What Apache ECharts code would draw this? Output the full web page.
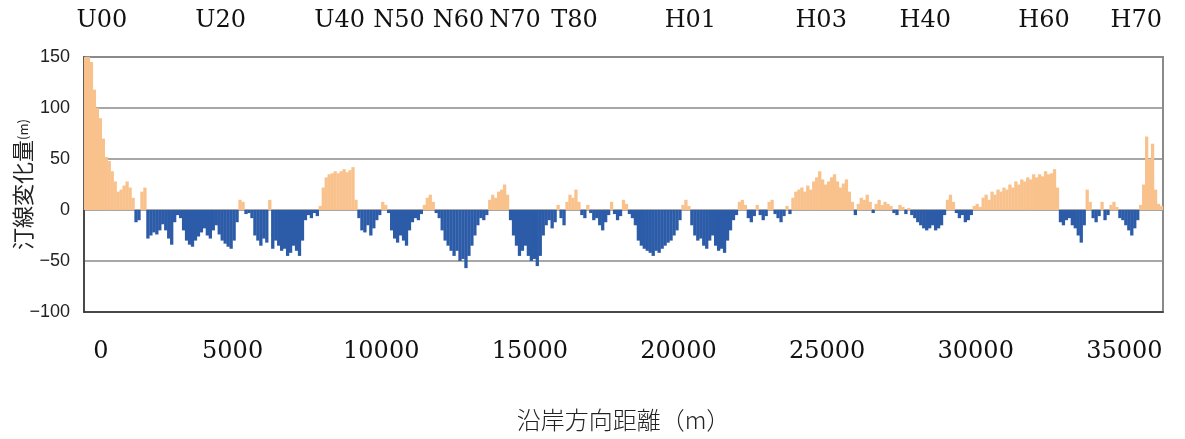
<!DOCTYPE html>
<html>
<head>
<meta charset="utf-8">
<script src="https://cdn.jsdelivr.net/npm/echarts@6/dist/echarts.min.js"></script>
<style>
  html, body { margin: 0; padding: 0; background: #fff; }
  #chart { width: 1185px; height: 439px; }
</style>
</head>
<body>
<div id="chart"></div>
<script>
// Alongshore spacing of the survey profiles (m)
const STEP = 100;

// Shoreline change (m) per 100 m profile, from 0 m alongshore
const shoreChange = [
  150, 150, 145, 118, 100, 90, 70, 52, 48, 38,
  28, 18, 20, 24, 28, 22, 12, -12, -10, 18,
  22, -28, -25, -22, -24, -20, -14, -20, -28, -34,
  -12, -5, -8, -20, -30, -34, -36, -30, -26, -22,
  -18, -25, -28, -20, -15, -24, -30, -33, -36, -38,
  -30, -12, 10, 8, -4, -3, -8, -25, -30, -35,
  -28, -32, 10, -38, -30, -35, -40, -38, -45, -42,
  -35, -40, -45, -30, -10, -5, -8, -3, -6, 4,
  22, 32, 35, 36, 38, 36, 38, 40, 37, 39,
  42, 10, -8, -20, -22, -15, -25, -18, -10, -5,
  8, 5, -3, -20, -28, -32, -25, -30, -35, -20,
  -12, -8, -10, -4, 5, 12, 15, 8, -3, -8,
  -20, -30, -35, -40, -45, -40, -50, -48, -57, -45,
  -35, -25, -15, -8, -10, -5, 10, 15, 12, 18,
  20, 25, 15, -10, -25, -35, -45, -40, -35, -45,
  -50, -48, -55, -45, -25, -15, -10, -18, -12, 5,
  -8, -15, 8, 15, 12, 20, 8, -5, -8, 5,
  -3, -10, -8, -15, -20, -12, -5, 8, -4, -10,
  -6, 10, 6, -4, -8, -15, -30, -35, -38, -40,
  -42, -45, -40, -42, -38, -35, -32, -30, -25, -20,
  -10, 5, 10, 4, -15, -25, -30, -28, -35, -38,
  -30, -25, -35, -40, -38, -42, -30, -20, -10, -5,
  8, 10, 5, -8, -12, -6, 5, -5, -10, -6,
  8, 10, -4, -8, -12, -6, 4, -4, 12, 18,
  20, 22, 18, 24, 20, 28, 32, 38, 30, 25,
  28, 32, 35, 28, 22, 26, 30, 18, 8, -5,
  6, 12, 10, 15, 8, -3, 6, 10, 5, 8,
  6, 4, -3, -5, 5, 3, -4, 2, -5, -8,
  -12, -15, -18, -20, -18, -15, -20, -18, -15, -5,
  10, 15, 8, -3, -8, -5, -12, -10, -5, 4,
  6, 3, 12, 15, 10, 18, 15, 20, 18, 22,
  20, 25, 22, 28, 25, 30, 28, 32, 30, 35,
  32, 35, 33, 38, 35, 36, 40, 22, -12, -15,
  -10, -8, -15, -18, -25, -32, -15, 20, 8, -8,
  -12, -6, 8, -10, -5, 5, 8, 3, -8, -10,
  -15, -20, -25, -18, -10, 5, 25, 72, 50, 65,
  20, 6, 4
];

// Reference survey lines and their alongshore positions (m)
const stationNames = ['U00', 'U20', 'U40', 'N50', 'N60', 'N70', 'T80', 'H01', 'H03', 'H40', 'H60', 'H70'];
const stationDist  = [600, 4600, 8600, 10600, 12600, 14500, 16500, 20400, 24800, 28300, 32300, 35400];

// Axis extents and tick spacing
const xMin = 0, xMax = 36300, xInterval = 5000;
const yMin = -100, yMax = 150, yInterval = 50;

const ACCRETION = '#f9c28c';
const EROSION = '#2c5ba8';

const barData = shoreChange.map((v, i) => [i * STEP + STEP / 2, v]);

const chart = echarts.init(document.getElementById('chart'), null, { renderer: 'canvas' });

chart.setOption({
  animation: false,
  backgroundColor: '#ffffff',
  grid: {
    left: 84, right: 22, top: 57, bottom: 127,
    outerBoundsMode: 'none',
    containLabel: false,
    show: true, borderColor: '#8a8a8a', borderWidth: 2, backgroundColor: 'transparent'
  },
  xAxis: [
    {
      type: 'value',
      min: xMin, max: xMax, interval: xInterval,
      position: 'bottom',
      name: '沿岸方向距離（m）',
      nameLocation: 'middle',
      nameGap: 96,
      nameMoveOverlap: false,
      nameTextStyle: { fontFamily: 'Noto Sans CJK JP', fontSize: 24, color: '#222', fontWeight: 300 },
      axisLine: { show: true, onZero: false, lineStyle: { color: '#333', width: 1.5 } },
      axisTick: { show: false },
      splitLine: { show: false },
      axisLabel: {
        margin: 28,
        showMaxLabel: false,
        fontFamily: 'DejaVu Serif',
        fontSize: 24,
        color: '#111',
        // the origin label sits a little inside the plot edge
        formatter: v => (v === xMin ? '{z|' + v + '}' : (v % xInterval === 0 ? String(v) : '')),
        rich: {
          z: { fontFamily: 'DejaVu Serif', fontSize: 24, color: '#111', padding: [0, 0, 0, 34] }
        }
      }
    },
    {
      type: 'value',
      min: xMin, max: xMax,
      position: 'top',
      axisLine: { show: false },
      axisTick: { show: false },
      splitLine: { show: false },
      axisLabel: {
        customValues: stationDist,
        margin: 24,
        fontFamily: 'DejaVu Serif',
        fontSize: 24,
        color: '#111',
        formatter: v => {
          const k = stationDist.indexOf(v);
          return k >= 0 ? stationNames[k] : '';
        }
      }
    }
  ],
  yAxis: {
    type: 'value',
    min: yMin, max: yMax, interval: yInterval,
    name: '{a|汀線変化量}{b|(m)}',
    nameLocation: 'middle',
    nameGap: 50,
    nameMoveOverlap: false,
    nameTextStyle: {
      rich: {
        a: { fontFamily: 'Noto Sans CJK JP', fontSize: 22, color: '#222' },
        b: { fontFamily: 'Noto Sans CJK JP', fontSize: 13, color: '#222' }
      }
    },
    axisLine: { show: true, lineStyle: { color: '#333', width: 1.5 } },
    axisTick: { show: false },
    splitLine: { show: true, lineStyle: { color: '#8a8a8a', width: 1.5 } },
    axisLabel: {
      margin: 14,
      fontFamily: 'Liberation Sans',
      fontSize: 18,
      color: '#222',
      formatter: v => String(v).replace('-', '\u2212')
    }
  },
  series: [{
    type: 'bar',
    xAxisIndex: 0,
    data: barData,
    barWidth: 3.3,
    itemStyle: {
      color: p => (p.value[1] >= 0 ? ACCRETION : EROSION)
    }
  }]
});
</script>
</body>
</html>
